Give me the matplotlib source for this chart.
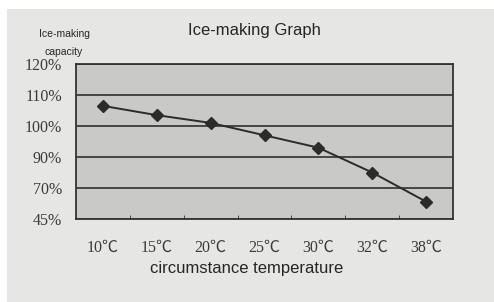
import numpy as np
import matplotlib
matplotlib.use("Agg")
from matplotlib import pyplot as plt
from matplotlib.patches import Rectangle
from matplotlib.ticker import NullLocator

# ice-making capacity vs ambient temperature
temps = ["10℃", "15℃", "20℃", "25℃", "30℃", "32℃", "38℃"]
capacity = [106.5, 103.5, 101.0, 97.0, 93.0, 80.0, 59.0]  # percent
y_levels = [45, 70, 90, 100, 110, 120]
y_labels = ["45%", "70%", "90%", "100%", "110%", "120%"]

level_idx = np.arange(len(y_levels), dtype=float)


def fwd(v):
    return np.interp(v, y_levels, level_idx)


def inv(v):
    return np.interp(v, level_idx, y_levels)


serif = ["Liberation Serif", "Noto Sans CJK SC", "DejaVu Sans"]
sans = ["Liberation Sans", "DejaVu Sans"]

fig = plt.figure(figsize=(4.94, 3.02), dpi=100, facecolor="white")
# light gray card behind the chart, white strip top and left
fig.patches.append(Rectangle((7 / 494, 0), 1, 1 - 9 / 302, transform=fig.transFigure,
                             facecolor="#e6e6e4", edgecolor="none", zorder=-10))

ax = fig.add_axes([76 / 494, 1 - 219 / 302, (453 - 76) / 494, (219 - 64) / 302])
ax.set_zorder(5)
ax.set_facecolor("#c9c9c7")
ax.set_yscale("function", functions=(fwd, inv))

x = np.arange(len(temps))
ax.plot(x, capacity, color="#2b2b2b", lw=1.4, marker="D", ms=6, zorder=3)

ax.set_xlim(-0.5, len(temps) - 0.5)
ax.set_ylim(y_levels[0], y_levels[-1])
ax.set_yticks(y_levels)
ax.set_yticklabels(y_labels, family=serif, fontsize=11.5, color="#3a3a3a")
ax.yaxis.set_minor_locator(NullLocator())
ax.set_xticks(x)
ax.set_xticklabels(temps, family=serif, fontsize=11.5, color="#3a3a3a")
ax.set_xticks(x[:-1] + 0.5, minor=True)
ax.tick_params(axis="x", which="major", length=0, pad=15)
ax.tick_params(axis="x", which="minor", direction="in", length=3, color="#333333")
ax.tick_params(axis="y", which="both", length=0, pad=10)

ax.grid(True, axis="y", color="#3c3c3c", lw=1.3)
ax.set_axisbelow(True)
for s in ax.spines.values():
    s.set_color("#333333")
    s.set_linewidth(1.3)

fig.text(254 / 494, 1 - 30 / 302, "Ice-making Graph", ha="center", va="center",
         family=sans, fontsize=12, color="#262626")
fig.text(247 / 494, 1 - 268 / 302, "circumstance temperature", ha="center", va="center",
         family=sans, fontsize=12, color="#262626")
fig.text(64 / 494, 1 - 43 / 302, "Ice-making\ncapacity", ha="center", va="center",
         family=sans, fontsize=7.5, color="#262626", linespacing=1.9)

fig.savefig("out.png", dpi=100, facecolor=fig.get_facecolor())
